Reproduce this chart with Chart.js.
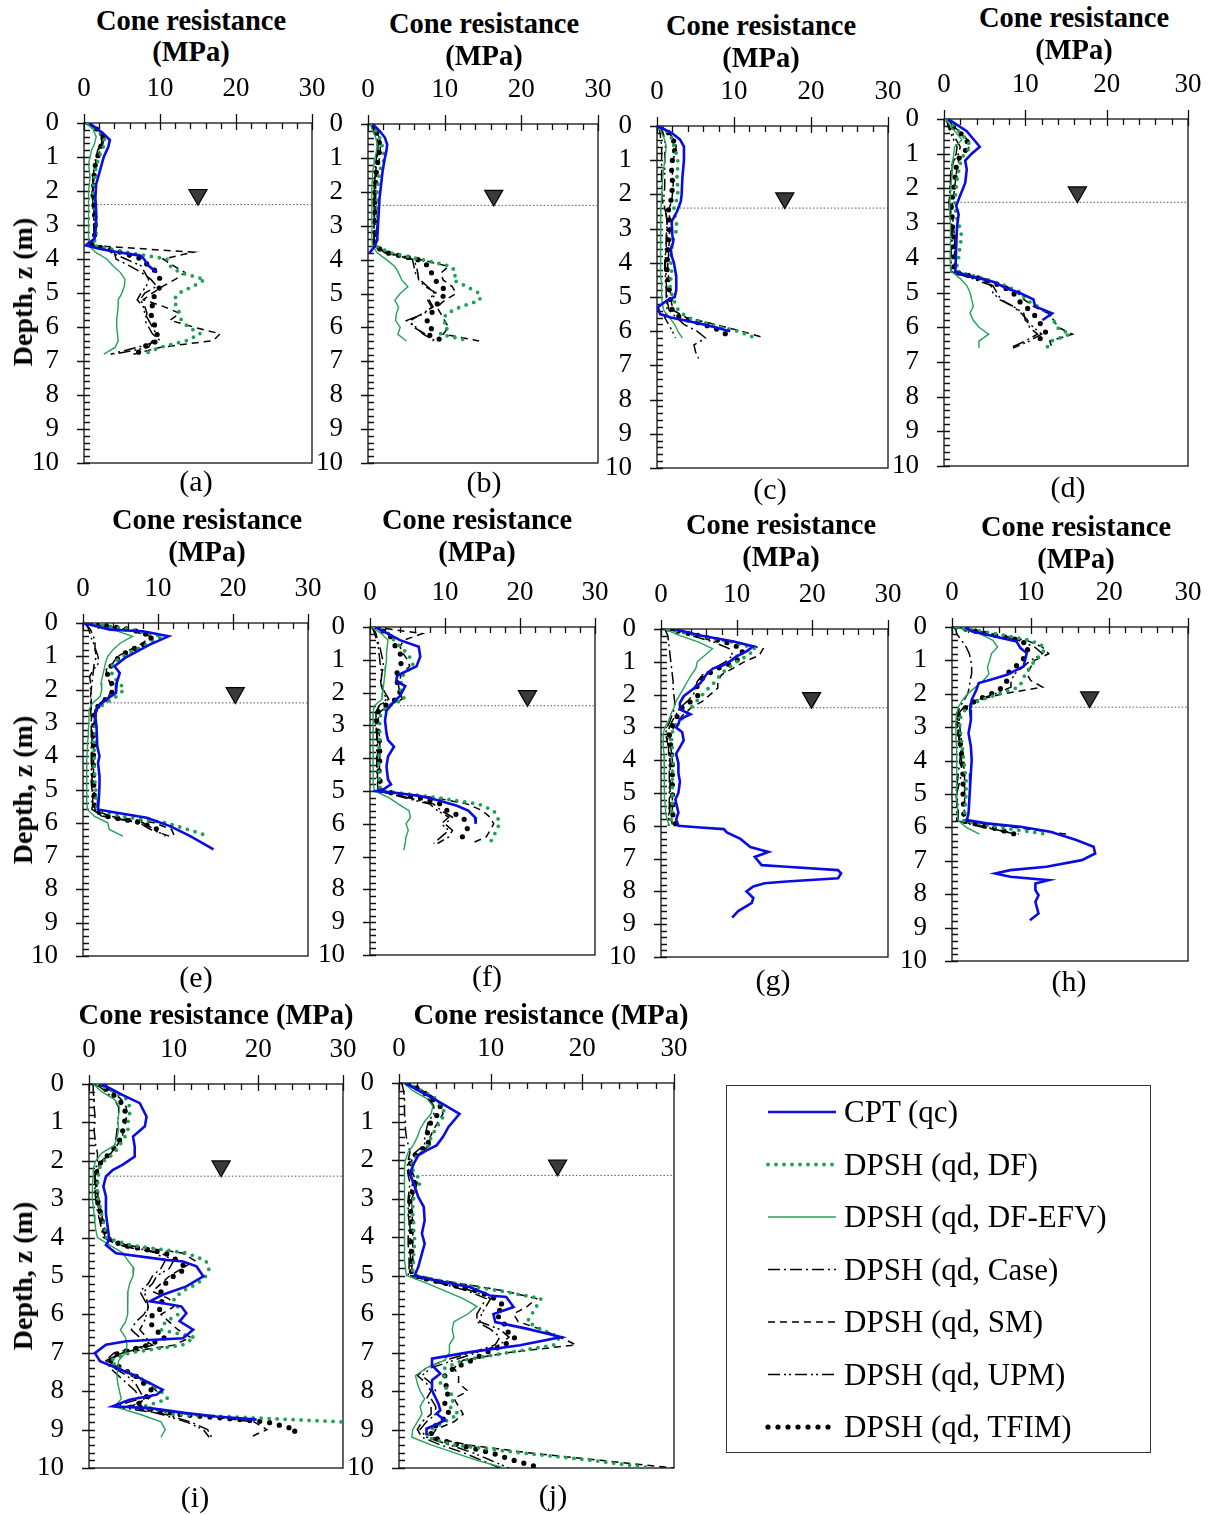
<!DOCTYPE html>
<html>
<head>
<meta charset="utf-8">
<script src="https://cdn.jsdelivr.net/npm/chart.js@4.4.1/dist/chart.umd.min.js"></script>
<style>
body { margin: 0; background: #fff; width: 1211px; height: 1515px; position: relative; overflow: hidden;
       font-family: "Liberation Serif", "Times New Roman", serif; color: #000; }
.txt { position: absolute; white-space: nowrap; transform: translateX(-50%); }
.panel { position: absolute; }
#legend { position: absolute; left: 726px; top: 1085px; width: 423px; height: 366px; border: 1.5px solid #333; }
</style>
</head>
<body>
<script>
// ---- data: depth (m) and cone resistance (MPa) ----
const DEPTH = [0,0.2,0.4,0.6,0.8,1,1.2,1.4,1.6,1.8,2,2.2,2.4,2.6,2.8,3,3.2,3.4,3.6,3.8,4,4.2,4.4,4.6,4.8,
               5,5.2,5.4,5.6,5.8,6,6.2,6.4,6.6,6.8,7,7.2,7.4,7.6,7.8,8,8.2,8.4,8.6,8.8,9,9.2,9.4,9.6,9.8,10];
const SERIES = ["CPT (qc)", "DPSH (qd, DF)", "DPSH (qd, DF-EFV)", "DPSH (qd, Case)",
                "DPSH (qd, SM)", "DPSH (qd, UPM)", "DPSH (qd, TFIM)"];
const PANEL_TAGS = ["(a)","(b)","(c)","(d)","(e)","(f)","(g)","(h)","(i)","(j)"];
const X_TICKS = [0, 10, 20, 30];
const Z_TICKS = [0,1,2,3,4,5,6,7,8,9,10];
const WT_DEPTH = 2.4;
const wtStart = [1.7, 1.0, 3.0, 1.6, 2.2, 4.0, 4.3, 2.5, 2.4, 2.5];
const markerX = [15.0, 16.4, 16.6, 16.4, 20.3, 21.0, 19.9, 17.5, 15.6, 17.3];
const markerZ = [2.11, 2.11, 2.11, 2.11, 2.10, 2.10, 2.10, 2.10, 2.14, 2.14];

// (a)
const cptZa = [0,0.3,0.5,0.7,1.0,1.4,1.8,2.2,2.6,3.0,3.4,3.6,3.7,3.8,3.9,4.0,4.2,4.4];
const cptQa = [0.7,2.5,3.4,3.2,2.6,2.1,1.6,1.5,1.6,1.6,1.4,0.2,2.0,4.5,7.4,7.9,8.5,9.6];
const dfA   = [0.5,1.8,2.6,2.8,2.3, 2.0,1.7,1.5,1.4,1.3, 1.2,1.3,1.4,1.5,1.6, 1.6,1.6,1.5,1.2,5.5, 10.9,11.3,12.6,15.9,14.4, 12.5,11.8,12.2,12.6,12.8, 13.7,15.3,13.5,10.0,7.8];
const efvA  = [0.3,1.2,1.6,1.4,1.0, 0.8,0.6,0.7,0.8,0.7, 0.6,0.6,0.6,0.6,0.6, 0.6,0.6,0.6,0.6,1.5, 3.0,3.8,4.8,5.4,5.3, 5.0,4.5,4.5,4.4,4.3, 4.3,4.4,4.5,4.1,2.6];
const caseA = [0.5,1.7,2.4,2.3,1.9, 1.7,1.5,1.3,1.2,1.2, 1.1,1.2,1.2,1.3,1.3, 1.4,1.4,1.3,0.9,4.0, 4.2,6.0,7.6,8.8,9.6, 8.0,7.4,8.0,8.3,8.0, 8.5,9.0,10.0,7.0,3.5];
const smA   = [0.6,1.9,2.6,2.5,2.1, 1.8,1.6,1.4,1.3,1.3, 1.2,1.2,1.3,1.4,1.4, 1.5,1.5,1.4,1.0,14.4, 10.4,11.8,13.3,12.0,10.4, 9.0,7.8,10.5,12.6,11.3, 14.4,17.9,17.0,10.0,6.5];
const upmA  = [0.5,1.6,2.3,2.2,1.8, 1.6,1.4,1.3,1.2,1.1, 1.1,1.1,1.2,1.2,1.3, 1.3,1.3,1.3,0.9,3.5, 5.5,7.5,8.0,8.5,8.2, 7.5,7.0,7.8,8.0,8.5, 9.0,9.5,9.0,8.5,4.0];
const tfimA = [0.6,1.8,2.5,2.4,2.0, 1.8,1.5,1.4,1.3,1.3, 1.2,1.2,1.3,1.4,1.4, 1.5,1.4,1.4,1.0,4.8, 7.6,8.5,9.7,10.0,10.0, 9.6,8.9,9.0,8.8,9.0, 9.4,9.6,9.8,7.6,7.0];

// (b)
const cptZb = [0,0.2,0.4,0.6,0.8,1.0,1.4,1.8,2.2,2.6,3.0,3.4,3.6,3.8];
const cptQb = [0.6,1.5,2.2,2.5,2.4,2.2,1.9,1.7,1.5,1.4,1.3,1.2,0.9,0.2];
const dfB   = [0.5,1.0,1.5,1.8,2.0, 2.2,1.8,1.5,1.4,1.3, 1.2,1.2,1.2,1.2,1.2, 1.2,1.2,1.2,1.0,3.0, 7.0,10.9,11.5,11.1,12.9, 14.6,14.6,12.0,10.2,9.8, 10.5,9.4,13.3];
const efvB  = [0.3,0.6,1.0,1.2,1.1, 0.9,0.8,0.6,0.6,0.5, 0.5,0.5,0.5,0.5,0.5, 0.5,0.5,0.5,0.6,1.2, 2.4,3.5,4.0,4.4,5.2, 4.2,3.5,4.0,3.7,3.6, 4.2,3.9,5.0];
const caseB = [0.5,0.8,1.2,1.3,1.3, 1.2,1.1,1.0,0.9,0.9, 0.8,0.8,0.8,0.8,0.8, 0.8,0.8,0.8,0.7,2.3, 6.0,6.3,6.5,6.6,7.5, 9.0,8.0,8.5,7.0,5.5, 6.0,7.5,8.5];
const smB   = [0.6,1.0,1.5,1.6,1.6, 1.5,1.3,1.2,1.1,1.0, 1.0,1.0,1.0,1.0,1.0, 1.0,1.0,1.0,0.8,2.6, 6.8,10.5,9.5,9.8,11.0, 11.5,10.0,9.0,9.5,10.0, 10.5,9.8,14.5];
const upmB  = [0.4,0.7,1.1,1.2,1.2, 1.1,1.0,0.9,0.9,0.8, 0.8,0.8,0.8,0.8,0.8, 0.8,0.8,0.8,0.7,2.2, 5.8,6.0,6.2,6.8,7.8, 8.7,7.8,8.3,7.3,5.0, 6.3,7.2,8.8];
const tfimB = [0.6,1.0,1.4,1.5,1.5, 1.4,1.2,1.1,1.0,1.0, 0.9,0.9,0.9,0.9,0.9, 0.9,0.9,0.9,0.8,2.5, 6.5,8.0,8.3,8.7,9.7, 10.2,9.2,8.9,8.2,7.7, 8.4,7.7,9.9];

// (c)
const cptZc = [0,0.2,0.4,0.6,1.0,1.5,2.0,2.2,2.5,2.8,3.2,3.4,3.6,3.8,4.0,4.4,4.8,5.0,5.1,5.3,5.5,5.6,5.7,5.8,6.0];
const cptQc = [0,1.9,3.0,3.5,3.5,3.3,3.2,3.1,2.6,1.9,2.0,2.1,1.8,1.9,2.2,2.5,2.5,2.3,1.3,0.1,0.4,1.8,4.0,6.0,9.5];
const dfC   = [0.5,1.5,2.0,2.2,2.5, 2.7,2.7,2.6,2.6,2.7, 2.7,2.5,2.2,2.3,2.5, 2.6,2.3,2.0,1.9,1.8, 1.8,1.9,1.9,1.6,1.8, 2.0,2.4,2.8,4.0,7.0, 10.5,12.8];
const efvC  = [0.1,0.6,1.0,1.2,1.1, 1.0,0.9,0.8,0.7,0.7, 0.6,0.6,0.5,0.5,0.4, 0.4,0.4,0.5,0.5,0.5, 0.5,0.5,0.5,0.6,0.6, 0.6,0.7,0.9,1.6,2.3, 2.7,3.3];
const caseC = [0.2,0.4,0.5,0.6,0.6, 0.6,0.6,0.6,0.6,0.6, 0.6,0.7,0.9,1.2,1.3, 1.3,1.3,1.2,1.2,1.1, 1.1,1.1,1.2,1.2,1.3, 1.3,1.4,1.6,2.5,3.5, 5.2,6.3,4.8,5.0,5.4];
const smC   = [0.5,1.6,2.2,2.5,2.3, 2.1,2.0,2.0,2.1,2.1, 2.0,1.9,1.6,1.6,1.7, 1.7,1.6,1.6,1.5,1.5, 1.4,1.4,1.5,1.6,1.7, 1.8,1.9,2.2,3.8,7.5, 11.0,14.0];
const upmC  = [0.3,0.8,1.0,1.1,1.0, 1.0,1.0,1.0,1.0,1.0, 0.9,0.9,1.0,1.2,1.3, 1.3,1.2,1.2,1.1,1.1, 1.0,1.0,1.1,1.1,1.2, 1.2,1.3,1.3,1.0,1.5, 2.0,2.4];
const tfimC = [0.5,1.5,2.1,2.4,2.2, 2.0,1.9,1.9,2.0,2.0, 1.9,1.8,1.5,1.5,1.6, 1.6,1.5,1.5,1.4,1.4, 1.3,1.3,1.4,1.5,1.6, 1.7,1.8,2.0,3.0,6.0, 8.5,9.5];

// (d)
const cptZd = [0,0.35,0.8,1.0,1.2,1.45,1.85,2.2,2.5,2.75,3.1,3.7,4.4,4.5,4.7,4.9,5.0,5.2,5.4,5.6,5.8];
const cptQd = [0.5,2.8,4.4,3.4,2.6,2.8,2.6,2.0,1.5,1.8,1.6,1.5,1.4,2.8,6.1,7.9,9.2,11.0,11.2,13.3,12.1];
const dfD   = [0.5,1.2,2.0,2.8,3.3, 2.5,2.1,1.9,1.7,1.6, 1.5,1.4,1.3,1.4,1.5, 1.8,2.0,2.2,2.0,1.9, 1.8,1.6,1.5,5.0,7.5, 9.5,10.0,11.5,12.8,13.5, 13.8,15.5,13.2,12.6];
const efvD  = [0.2,0.8,1.5,2.2,1.3, 1.2,1.1,1.0,1.0,0.9, 0.8,0.8,0.7,0.7,0.7, 0.8,0.8,0.8,0.8,0.8, 0.8,0.8,0.9,2.0,2.8, 3.2,3.4,3.6,3.2,3.6, 4.3,5.5,4.3,4.3];
const caseD = [0.3,0.6,1.0,1.5,2.0, 1.8,1.2,1.0,0.9,0.8, 0.8,0.8,0.7,0.8,0.9, 0.9,1.0,1.0,1.0,0.9, 0.9,0.9,0.9,4.0,6.0, 6.5,7.0,8.5,9.5,10.3, 10.5,11.5,10.0,8.1];
const smD   = [0.5,1.1,2.1,2.9,3.1, 2.4,1.8,1.6,1.5,1.4, 1.3,1.2,1.0,1.0,1.1, 1.1,1.2,1.3,1.3,1.3, 1.3,1.3,1.3,5.0,7.5, 9.0,9.8,11.0,12.8,13.5, 14.0,15.8,13.0,13.3];
const upmD  = [0.3,0.5,0.8,1.2,1.6, 1.5,1.1,0.9,0.8,0.8, 0.7,0.7,0.6,0.7,0.8, 0.8,0.9,0.9,0.9,0.8, 0.8,0.8,0.8,3.5,5.8, 6.0,6.8,8.5,9.8,10.0, 11.0,12.0,10.5,8.5];
const tfimD = [0.5,1.0,2.0,2.8,3.0, 2.3,1.6,1.5,1.4,1.3, 1.2,1.1,0.9,0.9,1.0, 1.0,1.1,1.2,1.2,1.2, 1.2,1.2,1.2,4.5,7.0, 8.5,9.0,10.0,11.0,11.5, 12.2,12.6,11.4];

// (e)
const cptZe = [0,0.2,0.25,0.4,0.65,1.05,1.3,1.5,1.8,2.1,2.3,2.5,2.75,3.1,3.7,4.0,4.2,4.6,4.9,5.3,5.6,5.7,5.85,6.1,6.4,6.8];
const cptQe = [0,3.6,8.0,11.4,8.9,5.6,4.2,4.9,4.5,4.4,3.1,2.0,1.6,1.8,1.9,2.2,2.0,2.2,2.2,2.1,2.0,4.5,8.5,11.6,14.3,17.4];
const dfE   = [0.5,6.5,10.6,9.0,7.0, 5.3,4.0,3.8,3.9,4.9, 5.5,4.5,3.0,1.8,1.6, 1.6,1.6,1.6,1.5,1.5, 1.5,1.5,1.5,1.6,1.6, 1.7,1.7,1.8,1.9,5.0, 11.0,14.0,16.7];
const efvE  = [0.3,4.0,6.6,5.0,4.0, 3.3,3.0,2.8,2.6,2.4, 2.5,2.3,1.3,0.8,0.8, 0.8,0.7,0.7,0.6,0.6, 0.5,0.5,0.5,0.5,0.5, 0.5,0.5,0.5,0.6,1.5, 3.3,3.5,5.3];
const caseE = [0.3,1.0,1.4,1.6,1.6, 1.8,1.5,1.4,1.3,1.2, 1.1,1.0,1.0,1.0,1.1, 1.2,1.2,1.2,1.2,1.2, 1.2,1.2,1.2,1.2,1.2, 1.3,1.3,1.3,1.3,2.5, 7.5,9.0,11.5];
const smE   = [0.5,6.0,9.0,8.0,6.3, 4.6,4.0,3.1,3.2,3.6, 3.9,3.4,2.3,1.6,1.5, 1.5,1.5,1.4,1.4,1.4, 1.4,1.4,1.4,1.4,1.4, 1.5,1.5,1.5,1.6,3.5, 9.5,11.8,12.2];
const upmE  = [0.3,0.8,1.0,1.4,1.7, 2.0,2.1,1.4,0.9,1.0, 1.0,1.1,1.1,1.1,1.1, 1.1,1.1,1.1,1.1,1.1, 1.1,1.1,1.1,1.1,1.1, 1.2,1.2,1.2,1.2,2.8, 8.0,9.5,11.0];
const tfimE = [0.5,6.5,9.3,8.5,6.5, 4.8,4.2,3.2,3.3,3.8, 4.1,3.5,2.4,1.6,1.5, 1.5,1.5,1.4,1.4,1.4, 1.4,1.4,1.4,1.4,1.4, 1.5,1.5,1.5,1.5,3.0, 7.8,10.0,10.5];

// (f)
const cptZf = [0,0.4,0.6,0.9,1.2,1.35,1.5,1.65,1.8,2.1,2.3,2.55,2.85,3.25,3.45,3.65,3.95,4.25,4.65,4.8,4.95,5.0,5.05,5.15,5.3,5.45,5.6,5.8,6.0];
const cptQf = [0.7,4.0,6.5,6.7,6.2,4.8,3.6,3.5,4.7,4.0,3.1,2.2,2.0,2.2,2.4,3.2,2.4,2.2,2.4,2.8,1.8,0.9,3.1,6.7,9.3,11.6,13.1,14.0,14.1];
const dfF   = [0.5,2.5,3.2,4.0,5.0, 5.5,5.8,4.5,4.3,4.0, 4.2,4.6,2.5,1.5,1.3, 1.3,1.3,1.3,1.2,1.2, 1.2,1.2,1.2,1.2,1.2, 1.5,9.0,14.5,16.5,17.0, 17.3,16.8,16.5,15.9];
const efvF  = [0.2,1.5,2.4,2.3,2.2, 2.2,2.1,2.0,1.9,1.8, 1.7,1.6,0.6,0.4,0.4, 0.4,0.4,0.4,0.4,0.4, 0.4,0.4,0.4,0.5,0.5, 0.6,2.5,3.8,5.2,5.4, 4.8,5.1,4.8,4.7,4.5];
const caseF = [0.3,0.8,1.0,1.3,1.5, 1.7,1.8,1.6,1.5,1.6, 2.0,2.5,1.3,0.8,0.8, 0.8,0.9,1.0,1.0,1.0, 1.0,1.0,1.0,1.0,1.1, 1.2,5.0,8.5,9.5,11.0, 10.0,11.0,10.5,9.0];
const smF   = [0.5,7.0,4.5,4.0,4.4, 5.0,5.3,4.2,4.0,3.8, 4.0,4.3,2.3,1.3,1.1, 1.1,1.2,1.3,1.3,1.3, 1.3,1.3,1.2,1.3,1.3, 1.5,8.5,13.0,15.0,16.0, 16.5,16.0,15.5,13.5];
const upmF  = [0.3,0.6,0.9,1.1,1.2, 1.3,1.4,1.6,1.4,1.5, 1.8,2.2,1.2,0.8,0.8, 0.8,0.9,0.9,0.9,0.9, 0.9,0.9,0.9,1.0,1.0, 1.1,4.5,8.0,9.0,10.5, 9.5,10.5,9.5,8.5];
const tfimF = [0.5,2.5,3.0,3.4,4.0, 4.3,4.0,3.6,3.5,3.8, 4.0,3.5,2.0,1.0,0.9, 0.9,1.1,1.2,1.3,1.3, 1.3,1.3,1.2,1.3,1.4, 1.5,6.5,9.5,10.3,12.4, 12.9,13.0,12.3,12.2];

// (g)
const cptZg = [0,0.2,0.38,0.53,0.68,0.83,0.94,1.1,1.2,1.35,1.65,1.85,2.05,2.25,2.45,2.6,2.75,2.9,3.0,3.15,3.4,3.6,3.8,4.1,4.4,4.65,
               5.0,5.2,5.6,5.8,6.0,6.05,6.1,6.2,6.4,6.65,6.8,6.95,7.2,7.25,7.35,7.45,7.6,7.7,7.75,7.85,8.0,8.2,8.35,8.45,8.6,8.8];
const cptQg = [1.7,5.2,9.6,12.2,11.3,10.0,9.4,8.3,6.9,6.1,5.2,4.1,3.0,2.5,2.5,3.9,2.5,2.3,2.0,2.8,3.0,2.5,2.0,2.3,2.3,2.5,
               2.3,1.9,2.3,2.0,2.3,5.2,8.3,8.7,10.5,11.8,14.2,12.4,13.3,16.6,23.4,23.8,23.4,16.6,13.7,12.2,11.3,12.2,12.0,11.3,10.2,9.4];
const dfG   = [1.0,5.0,9.5,12.5,11.5, 10.0,8.8,7.8,7.2,6.3, 5.5,4.7,4.0,3.3,2.5, 1.8,1.4,1.4,1.5,1.5, 1.6,1.6,1.5,1.5,1.5, 1.5,1.5,1.5,1.4,1.3, 1.2];
const efvG  = [0.5,2.5,5.0,6.8,5.8, 4.8,4.6,4.0,3.5,3.0, 2.5,2.0,1.7,1.3,1.0, 0.5,0.3,0.3,0.3,0.4, 0.4,0.4,0.4,0.5,0.5, 0.5,0.5,0.6,0.6,0.8, 1.1];
const caseG = [0.5,0.9,1.0,1.1,1.2, 1.3,1.4,1.5,1.6,1.6, 1.7,1.8,1.8,1.5,1.2, 0.8,0.6,0.8,1.0,1.1, 1.2,1.2,1.2,1.2,1.2, 1.2,1.2,1.2,1.1,1.0, 1.0];
const smG   = [1.0,5.5,10.0,13.5,13.0, 11.0,9.5,8.0,7.5,7.5, 6.5,5.5,4.0,3.0,2.2, 1.7,1.2,1.2,1.3,1.4, 1.5,1.5,1.5,1.5,1.5, 1.5,1.5,1.5,1.5,1.4, 1.5];
const upmG  = [0.8,4.0,7.0,9.0,9.5, 8.5,7.0,5.5,4.8,4.5, 4.3,3.5,2.5,2.0,1.5, 1.1,0.8,0.9,1.0,1.0, 1.1,1.1,1.1,1.1,1.1, 1.1,1.1,1.1,1.0,1.0, 1.0];
const tfimG = [1.0,5.0,8.5,10.8,10.7, 9.8,7.5,6.0,5.0,4.7, 5.0,4.0,2.8,2.3,1.8, 1.4,1.1,1.2,1.3,1.4, 1.5,1.5,1.5,1.5,1.5, 1.5,1.6,1.6,1.6,1.5, 2.1];

// (h)
const cptZh = [0,0.13,0.28,0.43,0.63,0.78,0.98,1.18,1.43,1.58,1.68,1.88,2.18,2.48,2.78,3.18,3.58,3.98,4.38,4.78,
               5.18,5.58,5.78,5.88,5.98,6.13,6.38,6.58,6.78,6.98,7.18,7.28,7.38,7.48,7.58,7.68,7.88,8.03,8.23,8.58,8.78];
const cptQh = [1.7,2.5,5.3,8.2,8.7,9.5,9.3,9.1,7.0,4.9,3.4,3.1,2.5,2.3,2.4,2.1,2.4,2.5,2.4,2.3,
               2.2,2.1,1.9,4.4,8.7,12.5,15.8,18.0,18.2,16.5,12.0,7.4,5.5,7.4,12.3,10.6,10.6,11.0,10.6,11.0,9.9];
const dfH   = [0.5,5.5,10.0,11.8,11.5, 10.5,10.0,9.3,9.0,8.5, 6.0,3.5,2.0,1.2,1.0, 1.0,1.1,1.2,1.3,1.4, 1.5,1.6,1.7,1.8,1.8, 1.8,1.7,1.7,1.6,1.5, 6.0,12.0];
const efvH  = [0.4,3.5,5.2,5.8,5.0, 4.8,4.5,4.7,4.0,3.0, 2.0,1.3,0.8,0.6,0.5, 0.5,0.5,0.5,0.6,0.6, 0.6,0.6,0.6,0.6,0.6, 0.6,0.6,0.7,0.7,0.8, 1.8,3.5];
const caseH = [0.4,0.6,1.2,1.8,2.2, 2.4,2.5,2.5,2.3,2.2, 2.0,1.5,1.0,0.7,0.6, 0.7,0.8,0.9,1.0,1.1, 1.0,0.9,0.8,0.7,0.6, 0.5,0.6,0.6,0.6,0.6, 4.0,8.5];
const smH   = [0.5,5.0,9.5,11.5,12.3, 10.5,10.0,9.5,10.0,11.5, 6.5,3.0,1.8,1.0,0.9, 1.0,1.1,1.2,1.3,1.4, 1.5,1.5,1.6,1.6,1.6, 1.6,1.6,1.6,1.5,1.4, 8.0,14.5];
const upmH  = [0.5,4.0,8.5,10.5,11.5, 10.0,9.0,8.0,7.5,7.5, 5.5,3.0,1.5,0.8,0.7, 0.8,0.9,1.0,1.1,1.2, 1.2,1.2,1.2,1.0,0.8, 0.6,0.7,0.8,0.8,0.8, 4.5,8.0];
const tfimH = [0.5,4.5,8.8,9.8,9.3, 9.0,8.0,7.0,7.0,6.5, 5.0,3.0,1.8,0.8,0.7, 0.8,0.9,1.0,1.1,1.2, 1.3,1.3,1.4,1.4,1.4, 1.4,1.4,1.5,1.5,1.3, 5.0,8.0];

// (i)
const cptZi = [0,0.29,0.5,0.85,1.1,1.37,1.63,1.89,2.1,2.24,2.41,2.67,2.93,3.37,3.71,4.06,4.19,4.41,4.58,4.62,4.75,5.01,
               5.27,5.49,5.66,5.71,5.79,5.97,6.18,6.4,6.62,6.7,6.79,7.01,7.22,7.57,7.96,8.09,8.22,8.39,8.44,8.57,8.66,8.74];
const cptQi = [1.5,4.0,6.0,6.8,6.6,5.2,5.4,5.4,4.0,2.8,2.0,1.7,2.0,2.0,2.2,2.4,2.0,3.2,9.1,11.1,12.7,13.5,
               11.5,8.7,7.2,8.7,10.9,11.5,10.7,12.3,11.1,4.4,2.0,0.7,1.3,5.2,8.7,8.0,4.8,2.8,7.2,11.5,15.0,19.8];
const dfI   = [1.0,3.0,4.5,4.8,4.8, 4.6,4.6,4.2,3.6,3.0, 1.8,1.2,1.1,1.0,1.0, 1.1,1.3,1.5,1.7,1.9, 2.0,5.0,11.5,13.8,14.2,
               13.8,12.8,11.0,10.0,10.5, 10.5,9.0,8.5,12.5,11.0, 4.8,2.5,3.5,5.5,7.2, 8.5,9.3,6.5,10.0,30.0];
const efvI  = [0.5,1.5,3.0,3.6,3.5, 3.4,3.5,3.3,3.0,1.5, 0.8,0.5,0.5,0.4,0.4, 0.4,0.5,0.6,0.7,0.8, 1.0,2.5,4.0,4.6,5.3,
               5.2,4.8,4.6,4.5,4.6, 4.6,4.3,3.7,4.3,4.5, 4.3,3.5,3.4,3.3,3.4, 3.6,3.8,3.0,6.0,8.5, 9.0,8.5];
const caseI = [0.5,0.5,0.6,0.6,0.7, 0.7,0.6,0.7,0.8,1.0, 1.0,0.8,0.7,0.7,0.7, 0.8,0.9,1.1,1.3,1.5, 1.7,3.5,8.0,9.0,8.5,
               7.5,7.0,6.0,6.5,7.0, 6.5,5.5,5.0,6.0,7.5, 4.0,2.0,2.5,3.5,4.5, 5.5,6.0,3.0,9.0,12.0, 14.0,14.5];
const smI   = [1.0,2.8,3.8,4.4,4.5, 4.3,4.1,3.9,3.3,2.6, 1.6,1.1,0.9,0.9,1.0, 1.1,1.3,1.5,1.7,1.9, 2.1,4.5,11.0,12.5,11.0,
               9.5,8.5,7.5,9.5,10.0, 8.5,9.5,10.5,12.0,10.0, 4.0,2.3,3.5,5.0,7.0, 8.0,7.0,4.5,12.0,19.5, 21.0,19.0];
const upmI  = [0.8,2.0,3.0,3.5,3.5, 3.4,3.3,3.2,3.0,2.6, 1.5,0.9,0.7,0.8,0.8, 0.9,1.1,1.3,1.5,1.7, 1.9,3.8,8.5,10.0,9.5,
               8.0,7.5,6.5,6.8,7.0, 6.8,6.5,6.0,6.8,7.0, 3.0,2.0,3.0,4.5,5.5, 6.0,6.5,5.0,8.5,11.5, 13.5,14.2];
const tfimI = [1.0,2.5,3.5,4.2,4.3, 4.2,4.0,3.8,3.2,2.5, 1.5,1.0,0.8,0.9,0.9, 1.0,1.2,1.4,1.6,1.8, 2.0,4.0,9.0,10.5,11.5,
               10.0,9.0,8.5,8.5,8.8, 7.5,7.2,7.8,9.0,7.0, 3.5,2.5,3.8,5.5,6.5, 7.5,6.5,5.5,10.5,21.0, 24.5,23.5];

// (j)
const cptZj = [0,0.45,0.8,1.14,1.4,1.62,1.75,1.88,2.1,2.35,2.61,2.96,3.22,3.57,3.91,4.17,4.43,4.78,5.0,5.17,5.3,
               5.52,5.56,5.82,6.0,6.21,6.38,6.6,6.81,6.99,7.16,7.33,7.55,7.72,7.98,8.33,8.5,8.59,8.76,8.89,8.98,9.15];
const cptQj = [0.65,4.1,6.6,5.4,4.8,4.1,3.0,2.1,1.6,1.2,1.6,2.1,2.7,2.8,2.5,2.8,2.5,2.1,1.7,4.8,7.7,
               9.9,11.7,12.5,10.3,10.5,13.9,17.7,13.2,7.7,3.6,3.6,4.5,3.6,3.6,4.3,4.5,4.1,5.0,3.9,3.0,3.0];
const dfJ   = [0.8,2.5,4.0,4.7,5.0, 4.5,4.0,3.5,3.3,2.5, 1.5,1.3,2.0,2.3,1.8, 1.6,1.5,1.5,1.6,1.6, 1.7,1.7,1.6,1.6,1.5,
               1.5,6.0,11.0,15.5,15.0, 14.5,14.0,15.5,17.5,17.0, 12.0,7.0,5.0,5.0,4.5, 5.5,6.0,5.5,6.5,5.0, 3.5,3.0,6.0,13.0,21.0, 27.5];
const efvJ  = [0.5,1.5,3.0,3.7,3.5, 2.8,2.3,2.0,1.6,1.0, 0.7,0.6,0.6,0.6,0.6, 0.6,0.6,0.6,0.6,0.6, 0.6,0.6,0.6,0.6,0.7,
               0.8,3.0,5.0,7.0,8.5, 7.5,6.0,5.8,6.0,5.5, 5.5,5.0,3.0,1.8,2.0, 2.3,2.8,2.3,2.5,2.0, 1.5,1.4,3.5,6.0,8.5, 11.5];
const caseJ = [0.3,0.5,0.6,0.6,0.6, 0.7,0.7,0.8,1.0,1.2, 1.0,0.9,1.0,1.2,1.1, 1.0,1.0,1.0,1.1,1.1, 1.0,1.0,1.1,1.1,1.1,
               1.0,4.5,7.5,9.5,9.0, 8.5,8.5,10.0,11.0,10.5, 8.0,5.0,3.0,2.0,3.0, 3.5,3.0,3.5,3.5,2.5, 2.0,2.5,4.5,7.0,9.0, 11.0];
const smJ   = [0.8,2.6,4.0,4.6,4.8, 4.3,3.8,3.4,3.4,2.4, 1.4,1.2,1.6,2.0,1.7, 1.4,1.4,1.4,1.5,1.5, 1.5,1.5,1.5,1.5,1.4,
               1.4,6.5,11.5,15.0,14.0, 12.5,13.0,15.5,17.5,19.3, 12.0,7.0,6.0,6.5,6.5, 7.5,6.0,6.5,7.0,6.0, 4.0,3.5,7.5,14.0,22.0, 30.0];
const upmJ  = [0.8,2.2,3.2,3.8,3.8, 3.2,3.0,2.8,2.8,1.8, 1.1,1.0,1.2,1.5,1.3, 1.1,1.1,1.2,1.2,1.2, 1.2,1.2,1.2,1.3,1.3,
               1.2,4.8,8.0,10.0,9.5, 9.0,8.8,11.0,12.0,11.0, 8.5,6.0,3.5,2.5,3.5, 4.0,3.5,4.0,4.0,3.0, 2.3,3.0,5.5,8.0,10.0, 12.0];
const tfimJ = [1.0,2.5,3.5,4.5,4.3, 3.5,3.2,3.0,3.3,2.0, 1.3,1.2,1.3,1.7,1.5, 1.2,1.2,1.3,1.4,1.4, 1.3,1.3,1.4,1.4,1.4,
               1.3,5.0,8.5,10.5,11.5, 10.5,11.5,11.5,12.7,11.5, 9.5,8.0,6.0,5.0,5.0, 5.5,5.0,5.0,5.5,4.5, 3.5,3.5,6.5,10.0,12.5, 15.5];

// ---- layout (page pixels) ----
// right/bottom padding must exceed half a tick label plus the tick padding, or Chart.js shrinks the plot
const AX_W = 70, AX_H = 50, PAD_R = 38, PAD_B = 46;
const FONT = '"Liberation Serif", "Times New Roman", serif';

const PANELS = [
  { l: 84,  t: 123,  r: 312, b: 463,  cptZ: cptZa, cpt: cptQa, s: [dfA, efvA, caseA, smA, upmA, tfimA],
    title: ["Cone resistance", "(MPa)"], tx: 191,  ty: [31, 62],   tagX: 196,  tagY: 491,  depthY: 292 },
  { l: 368, t: 124,  r: 598, b: 463,  cptZ: cptZb, cpt: cptQb, s: [dfB, efvB, caseB, smB, upmB, tfimB],
    title: ["Cone resistance", "(MPa)"], tx: 484,  ty: [34, 66],   tagX: 484,  tagY: 492 },
  { l: 657, t: 126,  r: 888, b: 468,  cptZ: cptZc, cpt: cptQc, s: [dfC, efvC, caseC, smC, upmC, tfimC],
    title: ["Cone resistance", "(MPa)"], tx: 761,  ty: [36, 68],   tagX: 770,  tagY: 499 },
  { l: 944, t: 119,  r: 1188, b: 466, cptZ: cptZd, cpt: cptQd, s: [dfD, efvD, caseD, smD, upmD, tfimD],
    title: ["Cone resistance", "(MPa)"], tx: 1074, ty: [28, 60],   tagX: 1068, tagY: 497 },
  { l: 83,  t: 623,  r: 308, b: 956,  cptZ: cptZe, cpt: cptQe, s: [dfE, efvE, caseE, smE, upmE, tfimE],
    title: ["Cone resistance", "(MPa)"], tx: 207,  ty: [530, 562], tagX: 196,  tagY: 987,  depthY: 790 },
  { l: 370, t: 627,  r: 595, b: 955,  cptZ: cptZf, cpt: cptQf, s: [dfF, efvF, caseF, smF, upmF, tfimF],
    title: ["Cone resistance", "(MPa)"], tx: 477,  ty: [530, 562], tagX: 487,  tagY: 986 },
  { l: 661, t: 629,  r: 888, b: 957,  cptZ: cptZg, cpt: cptQg, s: [dfG, efvG, caseG, smG, upmG, tfimG],
    title: ["Cone resistance", "(MPa)"], tx: 781,  ty: [535, 567], tagX: 773,  tagY: 990 },
  { l: 952, t: 627,  r: 1188, b: 961, cptZ: cptZh, cpt: cptQh, s: [dfH, efvH, caseH, smH, upmH, tfimH],
    title: ["Cone resistance", "(MPa)"], tx: 1076, ty: [537, 569], tagX: 1069, tagY: 991 },
  { l: 89,  t: 1084, r: 343, b: 1468, cptZ: cptZi, cpt: cptQi, s: [dfI, efvI, caseI, smI, upmI, tfimI],
    title: ["Cone resistance (MPa)"], tx: 216, ty: [1025], tagX: 195, tagY: 1507, depthY: 1276 },
  { l: 399, t: 1083, r: 674, b: 1468, cptZ: cptZj, cpt: cptQj, s: [dfJ, efvJ, caseJ, smJ, upmJ, tfimJ],
    title: ["Cone resistance (MPa)"], tx: 551, ty: [1025], tagX: 553, tagY: 1505 }
];

const STYLES = [
  { borderColor: "#0b0be3", borderWidth: 2.6 },
  { borderColor: "#1ca253", borderWidth: 3.8, borderDash: [0, 8], borderCapStyle: "round" },
  { borderColor: "#22a356", borderWidth: 1.4 },
  { borderColor: "#000", borderWidth: 1.5, borderDash: [12, 4, 2, 4] },
  { borderColor: "#000", borderWidth: 1.5, borderDash: [7, 5] },
  { borderColor: "#000", borderWidth: 1.5, borderDash: [12, 4, 2, 3, 2, 4] },
  { borderColor: "#000", borderWidth: 5.2, borderDash: [0, 10], borderCapStyle: "round" }
];

function toPoints(zs, vals) {
  const pts = [];
  vals.forEach((v, i) => { if (v !== null && zs[i] !== undefined) pts.push({ x: v, y: zs[i] }); });
  return pts;
}

function addText(text, cx, baseline, size, bold) {
  const d = document.createElement("div");
  d.className = "txt";
  d.textContent = text;
  d.style.left = cx + "px";
  d.style.top = (baseline - 0.8375 * size) + "px";
  d.style.fontSize = size + "px";
  d.style.lineHeight = size + "px";
  d.style.fontWeight = bold ? "bold" : "normal";
  document.body.appendChild(d);
}

// frame + inward minor ticks, outward/inward major ticks
const frameTicks = {
  id: "frameTicks",
  beforeDatasetsDraw(chart) {
    const { ctx, chartArea: a, scales: { x, y } } = chart;
    ctx.save();
    ctx.strokeStyle = "#111";
    ctx.lineWidth = 1.3;
    ctx.strokeRect(a.left, a.top, a.right - a.left, a.bottom - a.top);
    ctx.beginPath();
    for (let v = 0; v <= 30; v += 2) {
      const px = Math.round(x.getPixelForValue(v)) + 0.5;
      const major = X_TICKS.includes(v);
      ctx.moveTo(px, a.top - (major ? 9 : 0));
      ctx.lineTo(px, a.top + (major ? 7 : 6));
    }
    for (let k = 0; k <= 50; k++) {
      const py = Math.round(y.getPixelForValue(k / 5)) + 0.5;
      const major = k % 5 === 0;
      ctx.moveTo(a.left - (major ? 7 : 0), py);
      ctx.lineTo(a.left + 6, py);
    }
    ctx.stroke();
    ctx.restore();
  }
};

PANELS.forEach((p, idx) => {
  const w = p.r - p.l + AX_W + PAD_R;
  const h = p.b - p.t + AX_H + PAD_B;
  const box = document.createElement("div");
  box.className = "panel";
  box.style.left = (p.l - AX_W) + "px";
  box.style.top = (p.t - AX_H) + "px";
  box.style.width = w + "px";
  box.style.height = h + "px";
  const cv = document.createElement("canvas");
  cv.width = w;
  cv.height = h;
  box.appendChild(cv);
  document.body.appendChild(box);

  const datasets = [{ label: SERIES[0], data: toPoints(p.cptZ, p.cpt), ...STYLES[0] }];
  p.s.forEach((vals, k) => {
    datasets.push({ label: SERIES[k + 1], data: toPoints(DEPTH, vals), ...STYLES[k + 1] });
  });
  datasets.push({
    label: "Water table", data: [{ x: wtStart[idx], y: WT_DEPTH }, { x: 30, y: WT_DEPTH }],
    borderColor: "#555", borderWidth: 1, borderDash: [1.5, 2]
  });
  datasets.push({
    label: "GWL marker", data: [{ x: markerX[idx], y: markerZ[idx] }], showLine: false,
    pointStyle: "triangle", rotation: 180, pointRadius: 10.5,
    backgroundColor: "#3a3a3a", borderColor: "#000", borderWidth: 1.2
  });

  new Chart(cv, {
    type: "line",
    data: { datasets },
    options: {
      responsive: false,
      animation: false,
      devicePixelRatio: 1,
      indexAxis: "y",
      events: [],
      layout: { padding: { left: 0, top: 0, right: PAD_R, bottom: PAD_B } },
      elements: { point: { radius: 0, hoverRadius: 0 }, line: { tension: 0, fill: false } },
      plugins: { legend: { display: false }, tooltip: { enabled: false } },
      scales: {
        x: {
          type: "linear", position: "top", min: 0, max: 30,
          afterBuildTicks: s => { s.ticks = X_TICKS.map(v => ({ value: v })); },
          ticks: { padding: 18, color: "#000", autoSkip: false, maxRotation: 0, font: { family: FONT, size: 27 } },
          grid: { display: false, drawTicks: false },
          border: { display: false },
          afterFit: s => { s.height = AX_H; }
        },
        y: {
          type: "linear", reverse: true, min: 0, max: 10,
          afterBuildTicks: s => { s.ticks = Z_TICKS.map(v => ({ value: v })); },
          ticks: { padding: 25, color: "#000", autoSkip: false, font: { family: FONT, size: 27 } },
          grid: { display: false, drawTicks: false },
          border: { display: false },
          afterFit: s => { s.width = AX_W; }
        }
      }
    },
    plugins: [frameTicks]
  });

  p.title.forEach((line, i) => addText(line, p.tx, p.ty[i], 28.5, true));
  addText(PANEL_TAGS[idx], p.tagX, p.tagY, 30, false);
  if (p.depthY) {
    const d = document.createElement("div");
    d.textContent = "Depth, z (m)";
    d.style.cssText = `position:absolute;left:23px;top:${p.depthY}px;white-space:nowrap;font-weight:bold;` +
      `font-size:28px;line-height:28px;transform:translate(-50%,-50%) rotate(-90deg);`;
    document.body.appendChild(d);
  }
});

// ---- legend ----
const legend = document.createElement("div");
legend.id = "legend";
document.body.appendChild(legend);
const svgNS = "http://www.w3.org/2000/svg";
const svg = document.createElementNS(svgNS, "svg");
svg.setAttribute("width", "1211");
svg.setAttribute("height", "1515");
svg.style.cssText = "position:absolute;left:0;top:0;pointer-events:none";
document.body.appendChild(svg);
SERIES.forEach((name, i) => {
  const cy = 1112 + 52.5 * i;
  const st = STYLES[i];
  const ln = document.createElementNS(svgNS, "line");
  ln.setAttribute("x1", 768); ln.setAttribute("x2", 836);
  ln.setAttribute("y1", cy); ln.setAttribute("y2", cy);
  ln.setAttribute("stroke", st.borderColor);
  ln.setAttribute("stroke-width", st.borderWidth);
  if (st.borderDash) ln.setAttribute("stroke-dasharray", st.borderDash.join(" "));
  if (st.borderCapStyle) ln.setAttribute("stroke-linecap", st.borderCapStyle);
  svg.appendChild(ln);
  const t = document.createElement("div");
  t.textContent = name;
  t.style.cssText = `position:absolute;left:844px;top:${cy + 10 - 0.8375 * 31}px;font-size:31px;line-height:31px;white-space:nowrap;`;
  document.body.appendChild(t);
});
</script>
</body>
</html>
